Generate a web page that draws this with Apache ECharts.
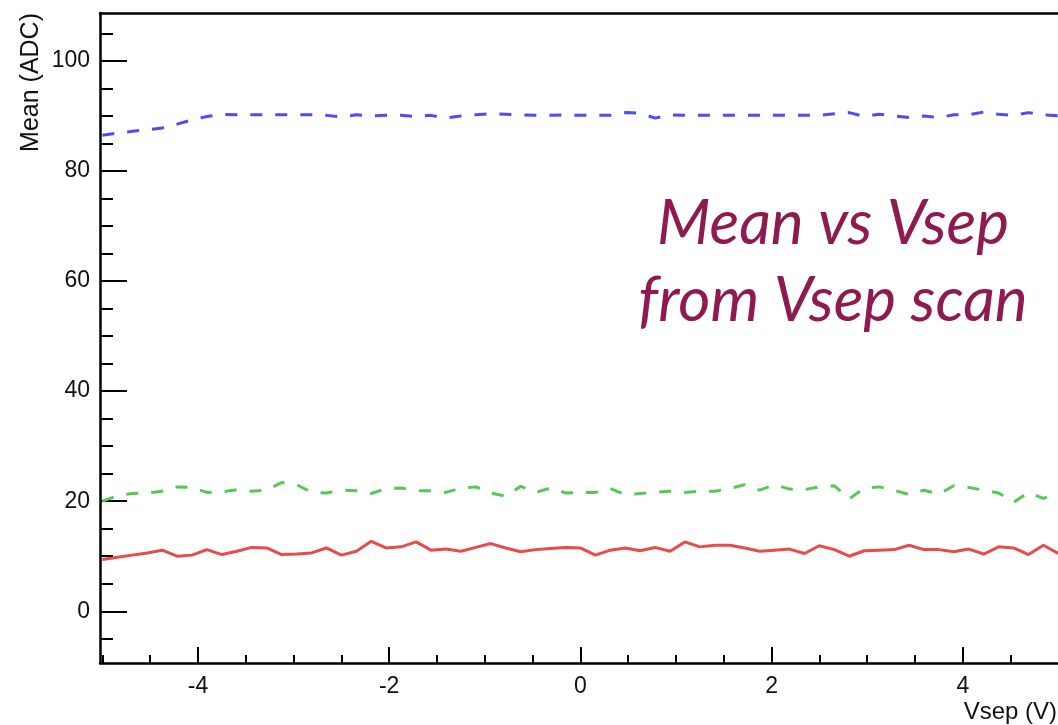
<!DOCTYPE html>
<html lang="en" style="height: 100%">
<head>
  <meta charset="utf-8">
</head>
<body style="height: 100%; margin: 0; background: #fff">
  <div id="container" style="width: 1058px; height: 725px"></div>

  <script type="text/javascript" src="https://fastly.jsdelivr.net/npm/echarts@6/dist/echarts.min.js"></script>

  <script type="text/javascript">
    // Vsep scan points (V)
    var vsep = [
      -5, -4.84375, -4.6875, -4.53125, -4.375, -4.21875, -4.0625, -3.90625, -3.75, -3.59375,
      -3.4375, -3.28125, -3.125, -2.96875, -2.8125, -2.65625, -2.5, -2.34375, -2.1875, -2.03125,
      -1.875, -1.71875, -1.5625, -1.40625, -1.25, -1.09375, -0.9375, -0.78125, -0.625, -0.46875,
      -0.3125, -0.15625, 0, 0.15625, 0.3125, 0.46875, 0.625, 0.78125, 0.9375, 1.09375,
      1.25, 1.40625, 1.5625, 1.71875, 1.875, 2.03125, 2.1875, 2.34375, 2.5, 2.65625,
      2.8125, 2.96875, 3.125, 3.28125, 3.4375, 3.59375, 3.75, 3.90625, 4.0625, 4.21875,
      4.375, 4.53125, 4.6875, 4.84375, 5
    ];
    var meanBlue = [
      86.5, 86.9, 87.2, 87.5, 87.8, 88.5, 89.3, 89.9, 90.3, 90.2,
      90.2, 90.2, 90.2, 90.2, 90.2, 90.1, 89.8, 90.2, 90.0, 90.1,
      90.1, 89.9, 90.1, 89.6, 90.0, 90.2, 90.4, 90.3, 90.2, 90.1,
      90.1, 90.2, 90.1, 90.1, 90.1, 90.6, 90.5, 89.6, 90.2, 90.1,
      90.1, 90.1, 90.1, 90.1, 90.1, 90.1, 90.1, 90.1, 90.1, 90.4,
      90.6, 89.9, 90.3, 90.0, 89.7, 90.0, 89.7, 90.2, 90.2, 90.7,
      90.3, 90.1, 90.6, 90.2, 90.0
    ];
    var meanGreen = [
      20.0, 21.0, 21.4, 21.5, 21.8, 22.6, 22.5, 21.6, 21.7, 22.1,
      21.8, 22.0, 23.4, 23.0, 21.6, 21.5, 22.0, 21.9, 21.4, 22.3,
      22.4, 21.9, 21.9, 21.6, 22.4, 22.6, 21.5, 20.9, 22.7, 21.6,
      22.4, 21.5, 21.6, 21.6, 22.3, 21.2, 21.4, 21.6, 21.8, 21.6,
      21.8, 21.8, 22.3, 23.0, 22.0, 23.0, 22.2, 22.1, 22.6, 22.8,
      20.4, 22.4, 22.6, 22.0, 21.2, 22.0, 21.3, 22.8, 22.5, 22.0,
      21.5, 19.8, 21.6, 20.5, 21.5
    ];
    var meanRed = [
      9.4, 9.8, 10.2, 10.6, 11.1, 10.0, 10.2, 11.2, 10.3, 10.9,
      11.6, 11.5, 10.3, 10.4, 10.6, 11.5, 10.2, 10.9, 12.7, 11.5,
      11.7, 12.6, 11.1, 11.3, 10.9, 11.6, 12.3, 11.5, 10.8, 11.2,
      11.4, 11.6, 11.5, 10.2, 11.1, 11.5, 11.0, 11.6, 10.9, 12.6,
      11.7, 12.0, 12.0, 11.5, 10.9, 11.1, 11.3, 10.5, 11.9, 11.2,
      10.0, 11.0, 11.1, 11.2, 12.0, 11.2, 11.2, 10.8, 11.3, 10.4,
      11.7, 11.5, 10.3, 12.0, 10.5
    ];

    var xMajor = [-4, -2, 0, 2, 4];
    var xMinor = [-5, -4.5, -4, -3.5, -3, -2.5, -2, -1.5, -1, -0.5, 0, 0.5, 1, 1.5, 2, 2.5, 3, 3.5, 4, 4.5];
    var yMajor = [0, 20, 40, 60, 80, 100];
    var yMinor = [-5, 0, 5, 10, 15, 20, 25, 30, 35, 40, 45, 50, 55, 60, 65, 70, 75, 80, 85, 90, 95, 100, 105];

    function pairs(ys) {
      return vsep.map(function (x, i) { return [x, ys[i]]; });
    }

    var dom = document.getElementById('container');
    var myChart = echarts.init(dom, null, { renderer: 'canvas' });

    var font = 'Liberation Sans';
    // plot is cut at the right edge of the picture
    var xRange = { min: -5.025, max: 4.996 };
    var yRange = { min: -9.4, max: 108.7 };
    var frame = { color: '#000', width: 2.5 };

    var option = {
      animation: false,
      backgroundColor: '#fff',
      grid: {
        left: 100,
        top: 13,
        right: 0,
        bottom: 62
      },
      xAxis: [
        {
          type: 'value', min: xRange.min, max: xRange.max, position: 'bottom',
          axisLine: { show: true, onZero: false, lineStyle: frame },
          splitLine: { show: false },
          axisTick: { inside: true, length: 16, customValues: xMajor, lineStyle: { color: '#000', width: 2 } },
          axisLabel: { customValues: xMajor, margin: 12, fontSize: 23, fontFamily: font, color: '#111' }
        },
        {
          type: 'value', min: xRange.min, max: xRange.max, position: 'bottom',
          axisLine: { show: false, onZero: false },
          splitLine: { show: false },
          axisTick: { inside: true, length: 8, customValues: xMinor, lineStyle: { color: '#000', width: 2 } },
          axisLabel: { show: false }
        },
        {
          type: 'value', min: xRange.min, max: xRange.max, position: 'top',
          axisLine: { show: true, onZero: false, lineStyle: frame },
          splitLine: { show: false },
          axisTick: { show: false },
          axisLabel: { show: false }
        }
      ],
      yAxis: [
        {
          type: 'value', min: yRange.min, max: yRange.max, position: 'left',
          axisLine: { show: true, onZero: false, lineStyle: frame },
          splitLine: { show: false },
          axisTick: { inside: true, length: 27, customValues: yMajor, lineStyle: { color: '#000', width: 2 } },
          axisLabel: { customValues: yMajor, margin: 10, fontSize: 23, fontFamily: font, color: '#111' }
        },
        {
          type: 'value', min: yRange.min, max: yRange.max, position: 'left',
          axisLine: { show: false, onZero: false },
          splitLine: { show: false },
          axisTick: { inside: true, length: 13, customValues: yMinor, lineStyle: { color: '#000', width: 2 } },
          axisLabel: { show: false }
        }
      ],
      series: [
        {
          type: 'line', data: pairs(meanBlue), showSymbol: false, symbol: 'none',
          lineStyle: { color: '#4b4bff', width: 3, type: [12, 13] }
        },
        {
          type: 'line', data: pairs(meanGreen), showSymbol: false, symbol: 'none',
          lineStyle: { color: '#55c955', width: 3, type: [12, 13] }
        },
        {
          type: 'line', data: pairs(meanRed), showSymbol: false, symbol: 'none',
          lineStyle: { color: '#e94b4b', width: 3 }
        }
      ],
      graphic: [
        {
          type: 'text', x: 31, y: 13, rotation: Math.PI / 2,
          style: { text: 'Mean (ADC)', fontSize: 25, fontFamily: font, fill: '#111', align: 'right', verticalAlign: 'middle' }
        },
        {
          type: 'text', x: 1057, y: 712,
          style: { text: 'Vsep (V)', fontSize: 24, fontFamily: font, fill: '#111', align: 'right', verticalAlign: 'middle' }
        },
        {
          type: 'text', x: 833, y: 224,
          style: { text: 'Mean vs Vsep', fontSize: 62, fontStyle: 'italic', fontFamily: 'Lato', fill: '#8f1a50', align: 'center', verticalAlign: 'middle' }
        },
        {
          type: 'text', x: 833, y: 301,
          style: { text: 'from Vsep scan', fontSize: 62, fontStyle: 'italic', fontFamily: 'Lato', fill: '#8f1a50', align: 'center', verticalAlign: 'middle' }
        }
      ]
    };

    myChart.setOption(option);
    window.addEventListener('resize', myChart.resize);
  </script>
</body>
</html>
